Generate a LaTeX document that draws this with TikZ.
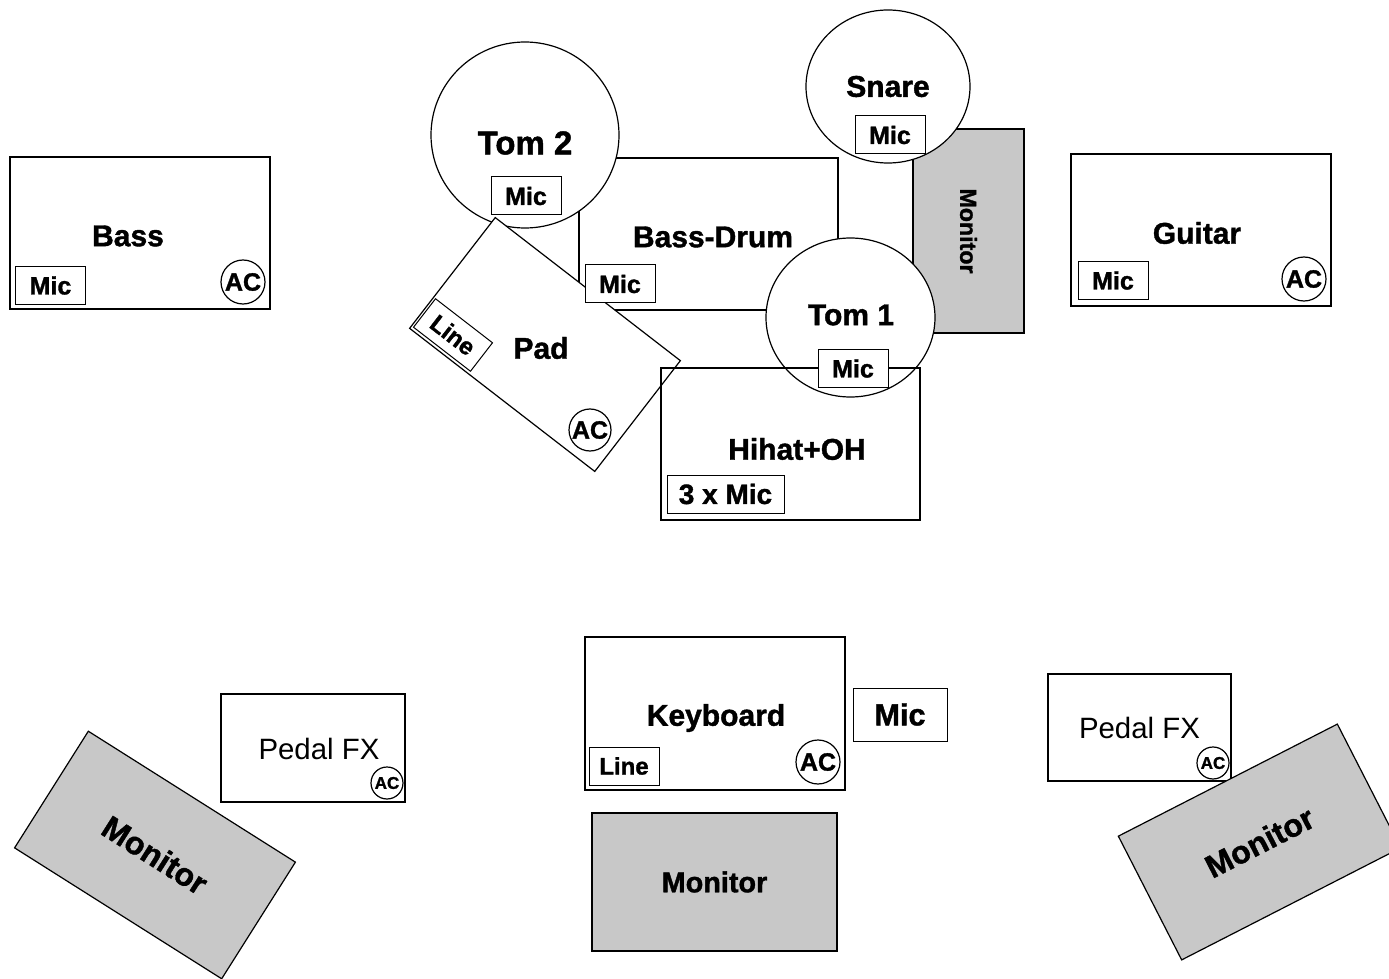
\documentclass[tikz,border=0pt]{standalone}
\usepackage{fontspec}
\setmainfont{Liberation Sans}[BoldFeatures={FakeBold=1.3}]
\usetikzlibrary{shapes.geometric}
\definecolor{monitor}{HTML}{C8C8C8}
\tikzset{instr/.style={black,draw=black,fill=white,rectangle,line width=0.6pt,inner sep=0pt,font=\bfseries\fontsize{15}{18}\selectfont}}
\tikzset{drum/.style={black,draw=black,fill=white,ellipse,line width=0.6pt,inner sep=0pt,font=\bfseries\fontsize{15}{18}\selectfont}}
\tikzset{mic/.style={black,draw=black,fill=white,rectangle,line width=0.5pt,inner sep=0pt,minimum width=35pt,minimum height=19pt,font=\bfseries\fontsize{12.5}{15}\selectfont}}
\tikzset{ac/.style={black,draw=black,fill=white,circle,line width=0.6pt,inner sep=0pt,minimum size=22pt,font=\bfseries\fontsize{12.5}{15}\selectfont}}
\tikzset{acsmall/.style={ac,minimum size=16pt,font=\bfseries\fontsize{8.5}{10}\selectfont}}
\tikzset{monitor/.style={black,draw=black,fill=monitor,rectangle,line width=0.6pt,inner sep=0pt,font=\bfseries\fontsize{16}{19}\selectfont}}
\tikzset{txt/.style={black,inner sep=0pt,font=\bfseries\fontsize{15}{18}\selectfont}}

\begin{document}
\begin{tikzpicture}[x=0.5pt,y=-0.5pt]
                \useasboundingbox (0,0) rectangle (1389,979);
                % bass and guitar
                \node[instr,minimum width=130pt,minimum height=76pt] (bass) at (140,233) {};
                \node[txt] (bassL) at (128,236) {Bass};
                \node[mic] (bassMic) at (50.5,285.5) {Mic};
                \node[ac] (bassAC) at (243,282) {AC};
                \node[instr,minimum width=130pt,minimum height=76pt] (guitar) at (1201,230) {};
                \node[txt] (guitarL) at (1197,233) {Guitar};
                \node[mic] (guitarMic) at (1113,280.5) {Mic};
                \node[ac] (guitarAC) at (1304,279) {AC};
                % drums
                \node[instr,minimum width=129.5pt,minimum height=76pt] (bassDrum) at (708.5,234) {};
                \node[txt] (bassDrumL) at (713,237) {Bass-Drum};
                \node[monitor,rotate=-90,minimum width=102pt,minimum height=55.5pt,font=\bfseries\fontsize{11.6}{14}\selectfont] (drumMon) at (968.5,231) {Monitor};
                \node[drum,minimum width=82pt,minimum height=76.5pt] (snare) at (888,86.5) {Snare};
                \node[mic] (snareMic) at (890,135) {Mic};
                \node[drum,minimum width=94pt,minimum height=93pt] (tom2) at (525,135) {};
                \node[txt,font=\bfseries\fontsize{16.5}{19}\selectfont] (tom2L) at (525,143) {Tom 2};
                \node[instr,rotate=-37.7,minimum width=117pt,minimum height=70pt] (pad) at (545,344.5) {};
                \node[mic,rotate=-37.7,minimum width=36pt,minimum height=18pt,font=\bfseries\fontsize{12}{14}\selectfont] (padLine) at (453,335) {Line};
                \node[txt] (padL) at (541,348) {Pad};
                \node[ac,minimum size=21pt] (padAC) at (590,430) {AC};
                \node[mic] (tom2Mic) at (526,196) {Mic};
                \node[mic] (bassDrumMic) at (620,284) {Mic};
                \node[drum,minimum width=84.5pt,minimum height=79.5pt] (tom1) at (850.5,317.5) {};
                \node[txt] (tom1L) at (851,315) {Tom 1};
                \node[instr,fill=none,minimum width=129.5pt,minimum height=76pt] (hihat) at (790.5,444) {};
                \node[txt] (hihatL) at (797,449) {Hihat+OH};
                \node[mic,minimum width=58.5pt,font=\bfseries\fontsize{14}{17}\selectfont] (hihatMic) at (725.5,494) {3 x Mic};
                \node[mic] (tom1Mic) at (853,368.5) {Mic};
                % keyboard
                \node[instr,minimum width=130pt,minimum height=76.5pt] (keys) at (715,713.5) {};
                \node[txt] (keysL) at (716,718) {Keyboard};
                \node[mic,font=\bfseries\fontsize{12}{14}\selectfont] (keysLine) at (624,766) {Line};
                \node[ac] (keysAC) at (818,762) {AC};
                \node[mic,minimum width=47pt,minimum height=26.5pt,font=\bfseries\fontsize{15.3}{18}\selectfont] (keysMic) at (900,714.5) {Mic};
                \node[monitor,minimum width=122.5pt,minimum height=69pt,font=\bfseries\fontsize{14.4}{17}\selectfont] (keysMon) at (714.5,882) {Monitor};
                % pedals and wedges
                \node[instr,minimum width=92pt,minimum height=54pt] (fxLeft) at (313,748) {};
                \node[txt,font=\fontsize{14.7}{17}\selectfont] (fxLeftL) at (319,749) {Pedal FX};
                \node[acsmall] (fxLeftAC) at (387,783) {AC};
                \node[monitor,rotate=-32.3,minimum width=122.5pt,minimum height=69pt,font=\bfseries\fontsize{16}{19}\selectfont] (monLeft) at (155,855) {Monitor};
                \node[instr,minimum width=91.5pt,minimum height=53.5pt,font=\fontsize{14.7}{17}\selectfont] (fxRight) at (1139.5,727.5) {Pedal FX};
                \node[acsmall] (fxRightAC) at (1213,763) {AC};
                \node[monitor,rotate=27.1,minimum width=123pt,minimum height=69.5pt] (monRight) at (1259.5,842) {Monitor};
\end{tikzpicture}
\end{document}
